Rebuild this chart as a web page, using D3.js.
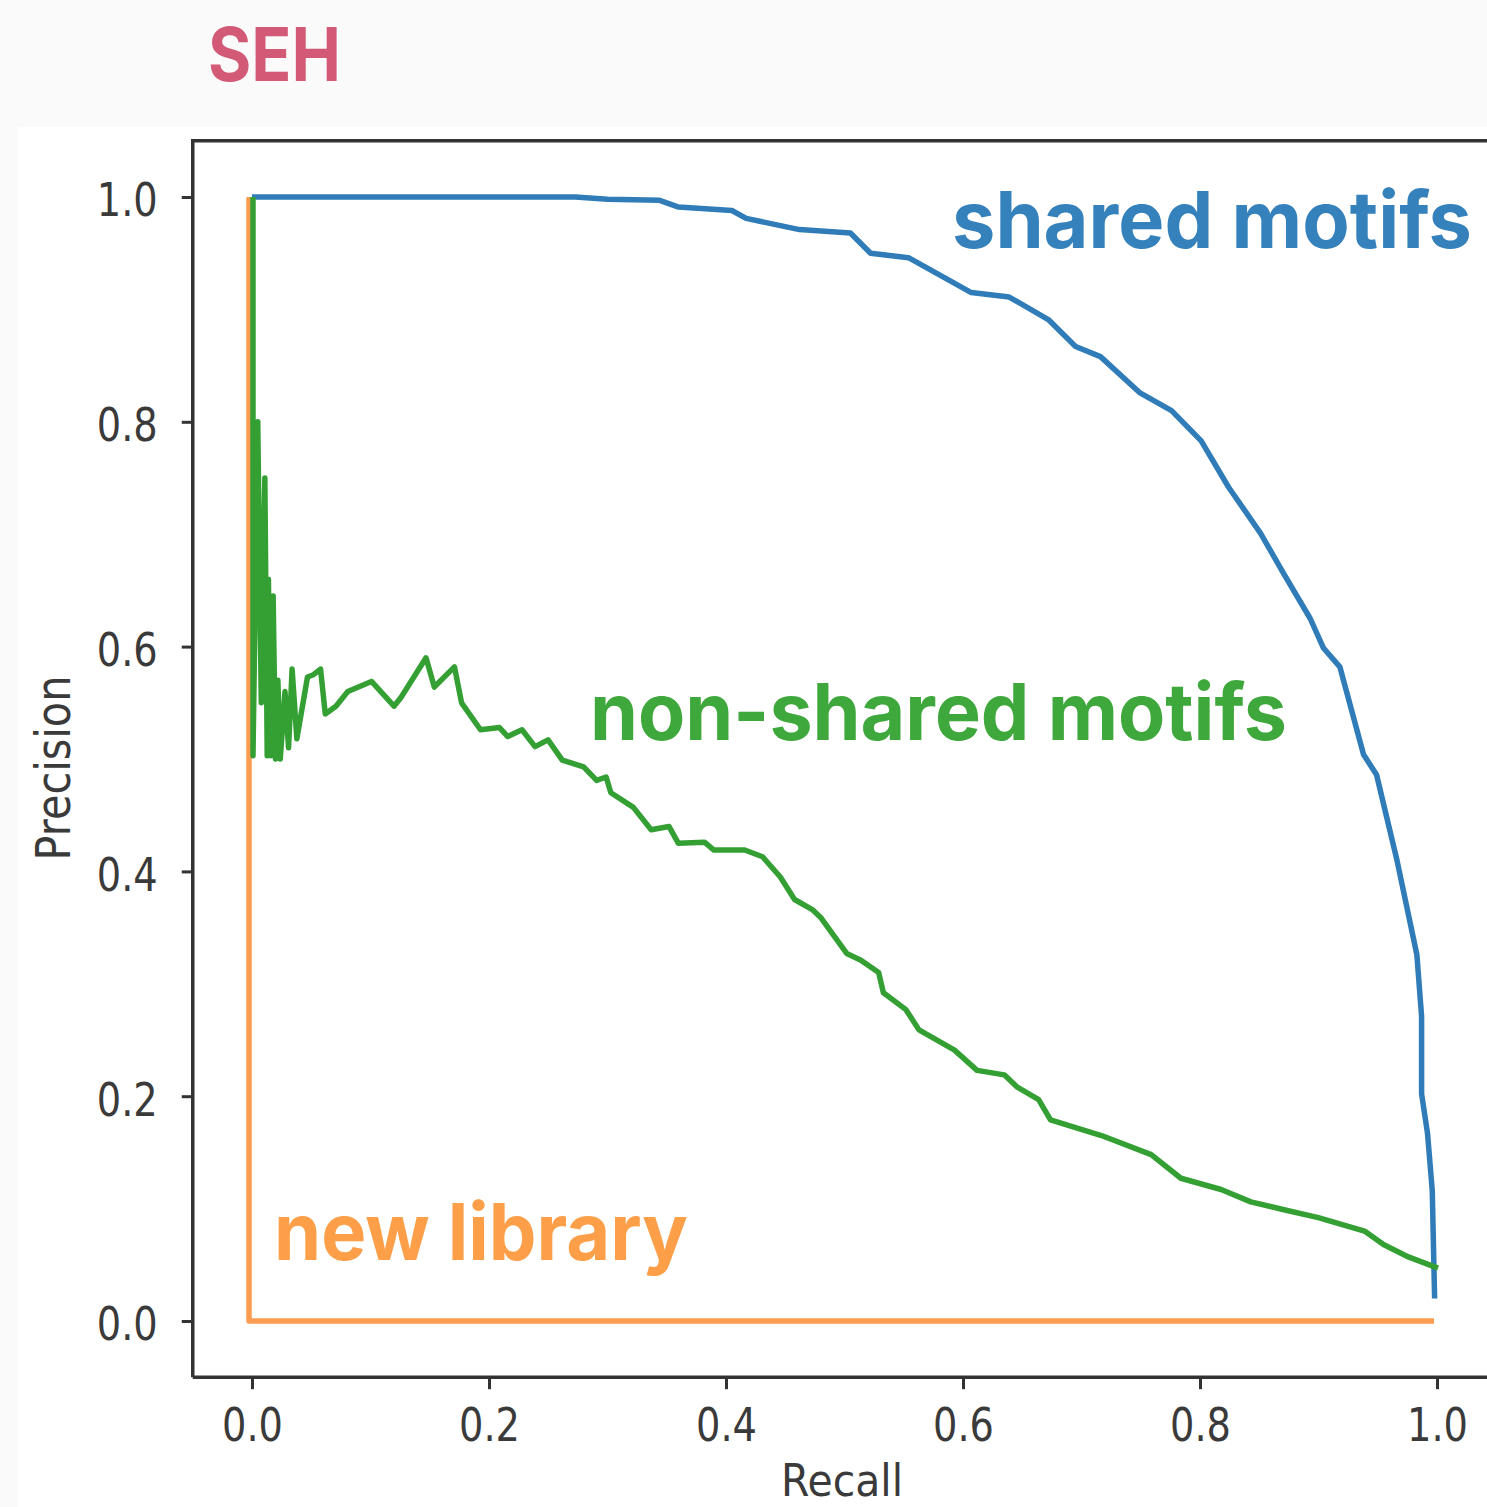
<!DOCTYPE html>
<html>
<head>
<meta charset="utf-8">
<script src="https://cdn.jsdelivr.net/npm/d3@7"></script>
<style>
  html, body { margin: 0; padding: 0; background: #fafafa; }
  svg { display: block; }
</style>
</head>
<body>
<svg id="chart" width="1487" height="1507"></svg>
<script>
// ---------------- DATA ----------------
const title = "SEH";
const xLabel = "Recall";
const yLabel = "Precision";
const xTicks = [0.0, 0.2, 0.4, 0.6, 0.8, 1.0];
const yTicks = [0.0, 0.2, 0.4, 0.6, 0.8, 1.0];

const seriesNames = ["shared motifs", "non-shared motifs", "new library"];

const sharedRecall = [0, 0.273, 0.300, 0.344, 0.360, 0.405, 0.417, 0.462, 0.505, 0.522, 0.554, 0.607, 0.639, 0.672, 0.695, 0.716, 0.749, 0.776, 0.801, 0.824, 0.851, 0.870, 0.893, 0.904, 0.918, 0.938, 0.949, 0.966, 0.983, 0.987, 0.987, 0.992, 0.996, 0.998];
const sharedPrecision = [1.0, 1.0, 0.998, 0.997, 0.991, 0.988, 0.981, 0.971, 0.968, 0.950, 0.946, 0.915, 0.911, 0.891, 0.867, 0.858, 0.826, 0.810, 0.783, 0.742, 0.701, 0.666, 0.625, 0.599, 0.582, 0.504, 0.486, 0.411, 0.326, 0.271, 0.202, 0.167, 0.116, 0.020];

const nonSharedRecall = [0, 0, 0.004, 0.007, 0.010, 0.012, 0.013, 0.015, 0.017, 0.019, 0.021, 0.023, 0.027, 0.030, 0.033, 0.037, 0.046, 0.051, 0.057, 0.061, 0.070, 0.080, 0.100, 0.119, 0.125, 0.146, 0.153, 0.170, 0.176, 0.192, 0.208, 0.215, 0.227, 0.238, 0.249, 0.261, 0.279, 0.290, 0.298, 0.302, 0.321, 0.336, 0.351, 0.359, 0.381, 0.389, 0.415, 0.430, 0.445, 0.457, 0.472, 0.479, 0.501, 0.513, 0.528, 0.532, 0.551, 0.562, 0.592, 0.611, 0.634, 0.645, 0.663, 0.673, 0.716, 0.758, 0.783, 0.817, 0.842, 0.870, 0.899, 0.938, 0.954, 0.975, 1.0];
const nonSharedPrecision = [1.0, 0.503, 0.80, 0.55, 0.75, 0.503, 0.66, 0.503, 0.645, 0.50, 0.57, 0.50, 0.56, 0.51, 0.58, 0.518, 0.573, 0.575, 0.58, 0.54, 0.547, 0.56, 0.569, 0.547, 0.555, 0.590, 0.564, 0.582, 0.550, 0.526, 0.528, 0.520, 0.526, 0.511, 0.517, 0.499, 0.493, 0.481, 0.484, 0.470, 0.457, 0.437, 0.440, 0.425, 0.426, 0.419, 0.419, 0.413, 0.395, 0.375, 0.366, 0.359, 0.327, 0.321, 0.310, 0.292, 0.277, 0.259, 0.241, 0.223, 0.219, 0.208, 0.197, 0.179, 0.165, 0.148, 0.127, 0.117, 0.106, 0.099, 0.092, 0.080, 0.068, 0.057, 0.047];

const newLibRecall = [0, 0, 1.0];
const newLibPrecision = [1.0, 0.0, 0.0];

// ---------------- LAYOUT / STYLE ----------------
const W = 1487, H = 1507;
const lineColors = ["#2f7cb8", "#34a034", "#fc9c50"];
const labelColors = ["#3581bc", "#3fa83c", "#fd9f48"];
const titleColor = "#d35a77";
const inkColor = "#333333";

const svg = d3.select("#chart");

// backgrounds
svg.append("rect").attr("x", 0).attr("y", 0).attr("width", W).attr("height", H).attr("fill", "#fafafa");
svg.append("rect").attr("x", 18).attr("y", 127).attr("width", W - 18).attr("height", H - 127).attr("fill", "#ffffff");

const x = d3.scaleLinear().domain([-0.05, 1.05]).range([192.75, 1496.25]);
const y = d3.scaleLinear().domain([-0.05, 1.05]).range([1377.2, 140.8]);

// lines
const line = d3.line().x(d => x(d[0])).y(d => y(d[1]));
const series = [
  d3.zip(newLibRecall, newLibPrecision),
  d3.zip(sharedRecall, sharedPrecision),
  d3.zip(nonSharedRecall, nonSharedPrecision)
];
const seriesColor = [lineColors[2], lineColors[0], lineColors[1]];
svg.append("clipPath").attr("id", "plotclip")
  .append("rect").attr("x", x(-0.05)).attr("y", y(1.05)).attr("width", x(1.05) - x(-0.05)).attr("height", y(-0.05) - y(1.05));
const plot = svg.append("g").attr("clip-path", "url(#plotclip)");
series.forEach((s, i) => {
  plot.append("path")
    .datum(s)
    .attr("d", line)
    .attr("fill", "none")
    .attr("stroke", seriesColor[i])
    .attr("stroke-width", 5.5)
    .attr("stroke-linejoin", "round")
    .attr("stroke-linecap", "butt")
    .attr("transform", i === 0 ? "translate(-3,0)" : (i === 2 ? "translate(1,0)" : null));
});

// spines
const spine = svg.append("g").attr("stroke", inkColor).attr("stroke-width", 3.5).attr("fill", "none");
spine.append("path").attr("d", `M${x(-0.05)},${y(-0.05)} L${x(-0.05)},${y(1.05)} L${W + 10},${y(1.05)}`);
spine.append("path").attr("d", `M${x(-0.05)},${y(-0.05)} L${W + 10},${y(-0.05)}`);

// axes
const tickFmt = d3.format(".1f");
const xAxis = d3.axisBottom(x).tickValues(xTicks).tickFormat(tickFmt).tickSize(12).tickPadding(18);
const yAxis = d3.axisLeft(y).tickValues(yTicks).tickFormat(tickFmt).tickSize(11).tickPadding(24);

const gx = svg.append("g").attr("transform", `translate(0,${y(-0.05)})`).call(xAxis);
const gy = svg.append("g").attr("transform", `translate(${x(-0.05)},0)`).call(yAxis);
[gx, gy].forEach(g => {
  g.select(".domain").remove();
  g.selectAll(".tick line").attr("stroke", inkColor).attr("stroke-width", 3);
  g.selectAll(".tick text")
    .attr("fill", "#3a3a3a")
    .attr("font-family", "DejaVu Sans")
    .attr("font-size", 47)
    .attr("textLength", 61)
    .attr("lengthAdjust", "spacingAndGlyphs");
});
gx.selectAll(".tick text").attr("dy", "0.71em");
gy.selectAll(".tick text").attr("dy", "0.4em");

// axis labels
svg.append("text")
  .attr("x", 842).attr("y", 1496)
  .attr("text-anchor", "middle")
  .attr("fill", "#3a3a3a")
  .attr("font-family", "DejaVu Sans").attr("font-size", 44)
  .attr("textLength", 122).attr("lengthAdjust", "spacingAndGlyphs")
  .text(xLabel);
svg.append("text")
  .attr("transform", `translate(70,768) rotate(-90)`)
  .attr("text-anchor", "middle")
  .attr("fill", "#3a3a3a")
  .attr("font-family", "DejaVu Sans").attr("font-size", 48)
  .attr("textLength", 185).attr("lengthAdjust", "spacingAndGlyphs")
  .text(yLabel);

// title
svg.append("text")
  .attr("x", 208).attr("y", 81)
  .attr("fill", titleColor)
  .attr("font-family", "Inter, Roboto, sans-serif").attr("font-weight", 700).attr("font-size", 74)
  .attr("textLength", 133).attr("lengthAdjust", "spacingAndGlyphs")
  .text(title);

// series annotations
const annot = [
  { text: seriesNames[0], x: 952, y: 248, w: 520, color: labelColors[0] },
  { text: seriesNames[1], x: 590, y: 740, w: 697, color: labelColors[1] },
  { text: seriesNames[2], x: 274, y: 1260, w: 414, color: labelColors[2] }
];
annot.forEach(a => {
  svg.append("text")
    .attr("x", a.x).attr("y", a.y)
    .attr("fill", a.color)
    .attr("font-family", "Inter, Roboto, sans-serif").attr("font-weight", 700).attr("font-size", 79)
    .attr("textLength", a.w).attr("lengthAdjust", "spacingAndGlyphs")
    .text(a.text);
});
</script>
</body>
</html>
